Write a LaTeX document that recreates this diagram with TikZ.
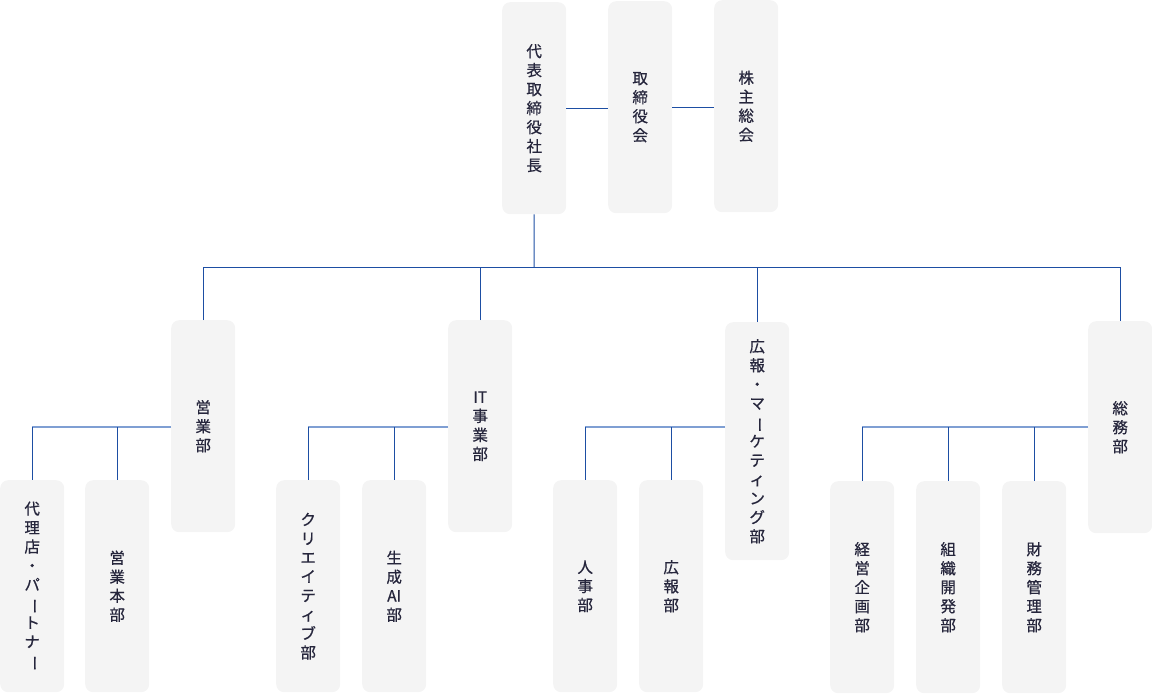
\documentclass[tikz,border=0pt]{standalone}
\usepackage{fontspec}
\setmainfont{Noto Sans CJK JP}[FakeBold=0.6]
\newcommand{\vbar}{\rotatebox[origin=c]{-90}{ー}}
\definecolor{boxfill}{HTML}{F4F4F4}
\definecolor{txt}{HTML}{26263C}
\definecolor{lineblue}{HTML}{1D4EA3}
\definecolor{lightblue}{HTML}{7F9FD3}
\tikzset{
  orgbox/.style={draw=none, fill=boxfill, rounded corners=8pt, anchor=north west,
    minimum width=64pt, minimum height=212pt, inner sep=0pt, align=center,
    text=txt, font=\fontsize{15.5}{19}\selectfont},
  tall/.style={minimum height=238pt},
  conn/.style={draw=lineblue, line width=1pt},
  branch/.style={draw=lightblue, line width=1.6pt}
}
\begin{document}
\begin{tikzpicture}[x=1pt,y=-1pt]
\useasboundingbox (0,0) rectangle (1152,694);
% top level
\node[orgbox] (ceo) at (502,2) {代\\表\\取\\締\\役\\社\\長};
\node[orgbox] (board) at (608,1) {取\\締\\役\\会};
\node[orgbox] (share) at (714,0) {株\\主\\総\\会};
% second level
\node[orgbox] (eigyo) at (171,320) {営\\業\\部};
\node[orgbox] (it) at (448,320) {IT\\事\\業\\部};
\node[orgbox,tall] (koho) at (725,322) {広\\報\\・\\マ\\\vbar\\ケ\\テ\\ィ\\ン\\グ\\部};
\node[orgbox] (somu) at (1088,321) {総\\務\\部};
% third level
\node[orgbox] (dairi) at (0,480) {代\\理\\店\\・\\パ\\\vbar\\ト\\ナ\\\vbar};
\node[orgbox] (honbu) at (85,480) {営\\業\\本\\部};
\node[orgbox] (crea) at (276,480) {ク\\リ\\エ\\イ\\テ\\ィ\\ブ\\部};
\node[orgbox] (genai) at (362,480) {生\\成\\AI\\部};
\node[orgbox] (jinji) at (553,480) {人\\事\\部};
\node[orgbox] (kohobu) at (639,480) {広\\報\\部};
\node[orgbox] (keiei) at (830,481) {経\\営\\企\\画\\部};
\node[orgbox] (soshiki) at (916,481) {組\\織\\開\\発\\部};
\node[orgbox] (zaimu) at (1002,481) {財\\務\\管\\理\\部};
% coordinates
\coordinate (bus) at (534,267);
\coordinate (lv) at (0,427);
% top connectors
\draw[conn] (ceo.east) -- (ceo.east -| board.west);
\draw[conn] (board.east) -- (board.east -| share.west);
\draw[conn] (ceo.south) -- (bus);
\draw[conn] (eigyo.north) -- (eigyo.north |- bus) -- (somu.north |- bus) -- (somu.north);
\draw[conn] (it.north) -- (it.north |- bus);
\draw[conn] (koho.north) -- (koho.north |- bus);
% branches
\draw[branch] (eigyo.west |- lv) -- (dairi.north |- lv);
\draw[branch] (it.west |- lv) -- (crea.north |- lv);
\draw[branch] (koho.west |- lv) -- (jinji.north |- lv);
\draw[branch] (somu.west |- lv) -- (keiei.north |- lv);
\foreach \c in {dairi,honbu,crea,genai,jinji,kohobu,keiei,soshiki,zaimu}{
  \draw[conn] (\c.north |- lv) -- (\c.north);
}
\end{tikzpicture}
\end{document}
